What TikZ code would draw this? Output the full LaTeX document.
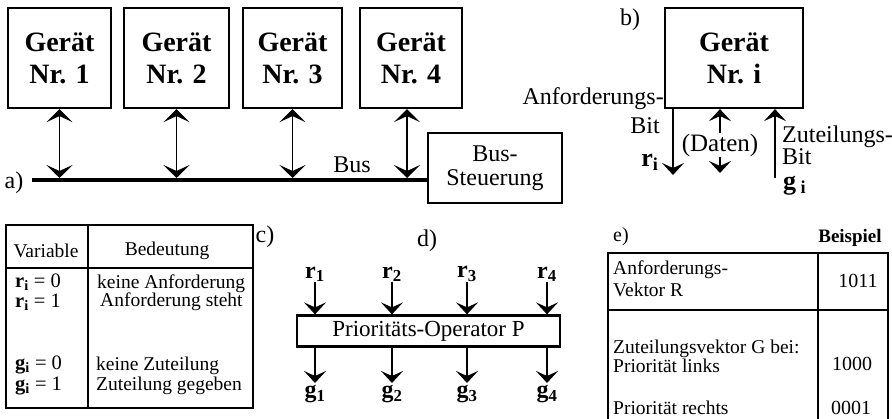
\documentclass[tikz,border=0pt]{standalone}
\usepackage{fontspec}
\setmainfont{Liberation Serif}
\usetikzlibrary{arrows.meta, positioning, calc}
\definecolor{Ink}{HTML}{000000}

\begin{document}
\begin{tikzpicture}[x=1pt, y=-1pt,
            devbox/.style={rectangle, draw=Ink, line width=2.2pt, minimum height=100pt, inner sep=0pt, align=center, font=\fontsize{28}{32}\selectfont\bfseries},
            block/.style={rectangle, draw=Ink, line width=2.2pt, inner sep=0pt, align=center, font=\fontsize{24}{24}\selectfont},
            arrow/.style={-{Stealth[length=12pt, width=22pt, inset=5pt]}, line width=1.6pt, color=Ink},
            biarrow/.style={{Stealth[length=13pt, width=26pt, inset=6pt]}-{Stealth[length=13pt, width=26pt, inset=6pt]}, line width=1.6pt, color=Ink},
            lbl/.style={font=\fontsize{24}{24}\selectfont, inner sep=0pt, color=Ink},
            sym/.style={font=\fontsize{26}{26}\selectfont\bfseries, inner sep=0pt, color=Ink},
            tab/.style={font=\fontsize{19.5}{21}\selectfont, inner sep=0pt, anchor=west, align=left, color=Ink},
            var/.style={font=\fontsize{22}{24}\selectfont, inner sep=0pt, anchor=west, align=left, color=Ink},
            rule/.style={line width=2pt, color=Ink}
        ]
            \useasboundingbox (0,0) rectangle (892,419);

            % a) Bus with four devices
            \node[devbox, minimum width=103pt] (dev1) at (59.5,58) {Gerät\\Nr. 1};
            \node[devbox, minimum width=105pt] (dev2) at (176.5,58) {Gerät\\Nr. 2};
            \node[devbox, minimum width=99pt] (dev3) at (292.5,58) {Gerät\\Nr. 3};
            \node[devbox, minimum width=102pt] (dev4) at (411,58) {Gerät\\Nr. 4};
            \node[block, minimum width=134pt, minimum height=70pt] (ctrl) at (495,168) {Bus-\\Steuerung};
            \node[lbl] (alabel) at (14,183) {a)};
            \node[lbl] (buslabel) at (352,165) {Bus};
            \coordinate (bus) at (32,180);
            \coordinate (bustop) at (0,178);

            \draw[line width=4pt, color=Ink] (bus) -- (bus -| ctrl.west);
            \draw[biarrow] (dev1.south) -- (dev1.south |- bustop);
            \draw[biarrow] (dev2.south) -- (dev2.south |- bustop);
            \draw[biarrow] (dev3.south) -- (dev3.south |- bustop);
            \draw[biarrow] ([xshift=-4pt]dev4.south) -- ([xshift=-4pt]dev4.south |- bustop);

            % b) single device with request / grant bit
            \node[lbl] (blabel) at (630,20) {b)};
            \node[devbox, minimum width=138pt] (devi) at (734,58) {Gerät\\Nr. i};
            \node[lbl, anchor=east] (anf) at (664,99) {Anforderungs-};
            \node[lbl] (bitl) at (645,126) {Bit};
            \node[sym] (ri) at (650,162) {r\textsubscript{i}};
            \node[lbl, font=\fontsize{25}{25}\selectfont] (daten) at (720,145) {(Daten)};
            \node[lbl, anchor=west, align=left, font=\fontsize{24}{20}\selectfont] (zut) at (782,145) {Zuteilungs-\\Bit};
            \node[sym, anchor=west] (gi) at (783,186) {g\,\textsubscript{i}};
            \coordinate (reqend) at (673,175);
            \coordinate (datend) at (720,173);
            \coordinate (grantstart) at (775,178);

            \draw[arrow] (devi.south -| reqend) -- (reqend);
            \draw[arrow] (daten.north) -- (daten.north |- devi.south);
            \draw[arrow] (daten.south) -- (datend);
            \draw[arrow] (grantstart) -- (grantstart |- devi.south);

            % c) variable table
            \draw[rule] (6,225) rectangle (253,408);
            \draw[rule] (88,225) -- (88,408);
            \draw[rule] (6,268) -- (253,268);
            \node[lbl] (clabel) at (265,237) {c)};
            \node[tab, anchor=center] (hvar) at (46,251) {Variable};
            \node[tab, anchor=center] (hbed) at (167,251) {Bedeutung};
            \node[var, font=\fontsize{20.5}{20}\selectfont] (vr) at (15,292) {\textbf{r}\textsubscript{\textbf{i}} = 0\\\textbf{r}\textsubscript{\textbf{i}} = 1};
            \node[var, font=\fontsize{20.5}{21}\selectfont] (vg) at (15,375) {\textbf{g}\textsubscript{\textbf{i}} = 0\\\textbf{g}\textsubscript{\textbf{i}} = 1};
            \node[tab, font=\fontsize{19.5}{18}\selectfont] (br) at (97,293) {keine Anforderung\\\hspace{3pt}Anforderung steht};
            \node[tab, font=\fontsize{19.5}{20}\selectfont] (bg) at (96,376) {keine Zuteilung\\Zuteilung gegeben};

            % d) priority operator
            \node[lbl] (dlabel) at (427,241) {d)};
            \node[block, minimum width=263pt, minimum height=31pt, font=\fontsize{23}{23}\selectfont] (prio) at (428.5,331) {Prioritäts-Operator P};
            \foreach \i/\x in {1/315, 2/392, 3/467, 4/547} {
                \coordinate (in\i) at (\x,282);
                \coordinate (out\i) at (\x,383);
                \node[sym, anchor=south, font=\fontsize{24}{24}\selectfont\bfseries] (r\i) at (in\i) {r\textsubscript{\i}};
                \node[sym, anchor=north, font=\fontsize{24}{24}\selectfont\bfseries] (g\i) at ([yshift=-2pt]out\i) {g\textsubscript{\i}};
                \draw[arrow] (in\i) -- (in\i |- prio.north);
                \draw[arrow] (out\i |- prio.south) -- (out\i);
            }

            % e) example vectors
            \node[lbl, font=\fontsize{20}{20}\selectfont] (elabel) at (621,237) {e)};
            \node[tab, anchor=center, font=\fontsize{19}{19}\selectfont\bfseries] (beisp) at (850,238) {Beispiel};
            \draw[rule] (608,419) -- (608,253) -- (888,253) -- (888,419);
            \draw[rule] (818,253) -- (818,419);
            \draw[rule] (608,310) -- (888,310);
            \node[tab, font=\fontsize{19.5}{22}\selectfont] (e1) at (613,279) {Anforderungs-\\Vektor R};
            \node[tab, font=\fontsize{19.5}{17}\selectfont] (e2) at (613,356) {Zuteilungsvektor G bei:\\Priorität links};
            \node[tab] (e3) at (613,408) {Priorität rechts};
            \node[tab, anchor=center, font=\fontsize{20}{20}\selectfont] (x1) at (858,281) {1011};
            \node[tab, anchor=center, font=\fontsize{20}{20}\selectfont] (x2) at (852,364) {1000};
            \node[tab, anchor=center, font=\fontsize{20}{20}\selectfont] (x3) at (851,408) {0001};
        \end{tikzpicture}
\end{document}
